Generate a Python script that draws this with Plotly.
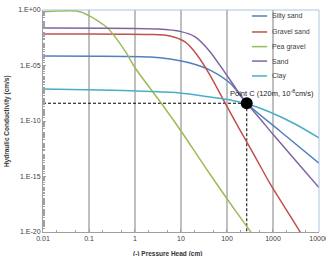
import plotly.graph_objects as go

# ---- data (log10 values) ----
names = ["Silty sand", "Gravel sand", "Pea gravel", "Sand", "Clay"]
colors = ["#4F81BD", "#C0504D", "#9BBB59", "#8064A2", "#4BACC6"]

silty_x = [-2, 0.33, 0.76, 1.2, 1.63, 2.07, 2.43, 3.15, 4.0]
silty_y = [-4.14, -4.23, -4.41, -4.77, -5.41, -6.6, -8.4, -10.9, -13.8]

gravel_x = [-2, 0.33, 0.76, 1.09, 1.35, 1.63, 1.96, 2.28, 2.61, 2.93, 3.26, 3.59, 3.7]
gravel_y = [-2.16, -2.2, -2.34, -2.88, -4.05, -5.86, -8.38, -10.8, -13.2, -15.6, -17.8, -20.0, -20.8]

pea_x = [-2, -1.7, -1.4, -1.2, -1.0, -0.8, -0.6, -0.4, -0.2, 0, 0.5, 1.0, 1.5, 2.0, 2.5, 2.7]
pea_y = [-0.15, -0.1, -0.06, -0.15, -0.5, -1.0, -1.6, -2.6, -3.8, -5.2, -8.0, -10.9, -14.0, -17.0, -19.9, -21.0]

sand_x = [-2, 0.5, 1.0, 1.3, 1.6, 1.95, 2.2, 2.43, 2.7, 3.0, 3.5, 4.0]
sand_y = [-1.62, -1.72, -1.95, -2.4, -3.6, -5.6, -7.1, -8.4, -9.7, -11.2, -13.6, -16.0]

clay_x = [-2, -0.76, 0.33, 0.98, 1.63, 2.07, 2.43, 2.93, 3.48, 4.0]
clay_y = [-7.12, -7.21, -7.34, -7.48, -7.84, -8.11, -8.45, -9.19, -10.27, -11.53]

point_c = (2.43, -8.4)
point_label = "Point C (120m, 10<sup>-8</sup>cm/s)"
x_ticks = [0.01, 0.1, 1, 10, 100, 1000, 10000]
x_tick_text = ["0.01", "0.1", "1", "10", "100", "1000", "10000"]
y_ticks = [1e0, 1e-5, 1e-10, 1e-15, 1e-20]
y_tick_text = ["1.E+00", "1.E-05", "1.E-10", "1.E-15", "1.E-20"]
x_title = "(-) Pressure Head (cm)"
y_title = "Hydraulic Conductivity (cm/s)"

series = [(silty_x, silty_y), (gravel_x, gravel_y), (pea_x, pea_y), (sand_x, sand_y), (clay_x, clay_y)]

FONT = "Liberation Sans"
fig = go.Figure()

# dashed guide lines to Point C
fig.add_trace(go.Scatter(x=[10 ** -2, 10 ** point_c[0]], y=[10 ** point_c[1]] * 2, mode="lines",
                         line=dict(color="black", width=1, dash="3px,2px"), showlegend=False, hoverinfo="skip"))
fig.add_trace(go.Scatter(x=[10 ** point_c[0]] * 2, y=[10 ** point_c[1], 1e-20], mode="lines",
                         line=dict(color="black", width=1, dash="3px,2px"), showlegend=False, hoverinfo="skip"))

for (xs, ys), n, c in zip(series, names, colors):
    fig.add_trace(go.Scatter(x=[10 ** v for v in xs], y=[10 ** v for v in ys], mode="lines", name=n,
                             line=dict(color=c, width=1.5, shape="spline", smoothing=0.8), showlegend=False))

fig.add_trace(go.Scatter(x=[10 ** point_c[0]], y=[10 ** point_c[1]], mode="markers",
                         marker=dict(color="black", size=12), showlegend=False))

fig.add_annotation(x=point_c[0], y=point_c[1], xref="x", yref="y", text=point_label, showarrow=False,
                   xanchor="center", yanchor="bottom", yshift=3, xshift=25,
                   font=dict(family=FONT, size=7.5, color="#222222"))

# manual legend
leg_y = [0.973, 0.901, 0.835, 0.77, 0.703]
for n, c, yy in zip(names, colors, leg_y):
    fig.add_shape(type="line", xref="paper", yref="paper", x0=0.757, x1=0.812, y0=yy, y1=yy,
                  line=dict(color=c, width=1.5))
    fig.add_annotation(xref="paper", yref="paper", x=0.822, y=yy, text=n, showarrow=False,
                       xanchor="left", yanchor="middle", font=dict(family=FONT, size=7, color="#404040"))

# plot border top/right (light blue)
fig.add_shape(type="line", xref="paper", yref="paper", x0=0, x1=1, y0=1, y1=1, line=dict(color="#A9C4E4", width=1))
fig.add_shape(type="line", xref="paper", yref="paper", x0=1, x1=1, y0=0, y1=1, line=dict(color="#A9C4E4", width=1))

fig.add_annotation(xref="paper", yref="paper", x=-0.13, y=0.5, text="<b>" + y_title + "</b>", textangle=-90,
                   showarrow=False, xanchor="center", yanchor="middle", font=dict(family=FONT, size=6.5, color="#333333"))
fig.add_annotation(xref="paper", yref="paper", x=0.45, y=-0.1, text="<b>" + x_title + "</b>",
                   showarrow=False, xanchor="center", yanchor="middle", font=dict(family=FONT, size=6.5, color="#333333"))

fig.update_xaxes(type="log", range=[-2, 4.0005], tickvals=x_ticks, ticktext=x_tick_text,
                 ticklabeloverflow="allow", automargin=False,
                 showgrid=True, gridcolor="#BFBFBF", gridwidth=1.5,
                 showline=True, linecolor="#A0A0A0", linewidth=1, zeroline=False,
                 ticks="inside", ticklen=3, tickcolor="#A0A0A0",
                 minor=dict(ticks="inside", ticklen=2, tickcolor="#A0A0A0", showgrid=False),
                 tickfont=dict(family=FONT, size=7, color="#404040"))
fig.update_yaxes(type="log", range=[-20.0005, 0], tickvals=y_ticks, ticktext=y_tick_text,
                 ticklabeloverflow="allow", automargin=False,
                 showgrid=False, showline=True, linecolor="#A0A0A0", linewidth=1, zeroline=False,
                 ticks="inside", ticklen=3, tickcolor="#A0A0A0",
                 minor=dict(ticks="inside", ticklen=2, tickcolor="#A0A0A0", dtick="D1", showgrid=False),
                 tickfont=dict(family=FONT, size=7, color="#404040"))

fig.update_layout(width=326, height=256, margin=dict(l=43, r=7, t=10, b=24, autoexpand=False),
                  paper_bgcolor="white", plot_bgcolor="white", showlegend=False)
fig.write_html("out.html")
